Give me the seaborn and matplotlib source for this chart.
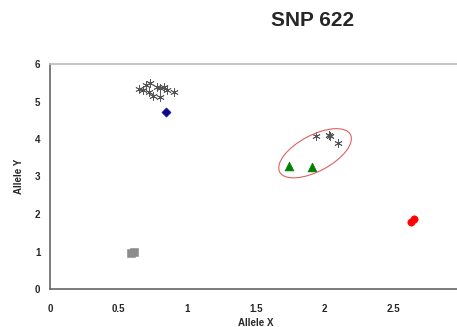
import numpy as np
import pandas as pd
import matplotlib
matplotlib.use('Agg')
import matplotlib.pyplot as plt
import seaborn as sns
from matplotlib.patches import Ellipse
from matplotlib.transforms import IdentityTransform

sns.set_style("white")
plt.rcParams['font.family'] = ['Liberation Sans', 'DejaVu Sans']

# star cluster (upper left)
star_x = [0.65, 0.68, 0.70, 0.73, 0.72, 0.75, 0.78, 0.80, 0.80, 0.83, 0.85, 0.90]
star_y = [5.33, 5.30, 5.45, 5.50, 5.25, 5.15, 5.40, 5.35, 5.12, 5.38, 5.30, 5.25]
# stars inside the circled group
star2_x = [1.94, 2.03, 2.04, 2.10]
star2_y = [4.08, 4.10, 4.07, 3.89]
diamond_x = [0.845]
diamond_y = [4.72]
square_x = [0.59, 0.61]
square_y = [0.95, 1.00]
circle_x = [2.63, 2.65]
circle_y = [1.80, 1.86]
tri_x = [1.74, 1.91]
tri_y = [3.28, 3.25]

x_ticks = [0, 0.5, 1, 1.5, 2, 2.5]
x_labels = ['0', '0.5', '1', '1.5', '2', '2.5']
y_ticks = [0, 1, 2, 3, 4, 5, 6]

fig = plt.figure(figsize=(4.57, 3.27), dpi=100)
ax = fig.add_axes([50/457, 38/327, 412/457, 225/327])

stars = pd.DataFrame({'x': star_x + star2_x, 'y': star_y + star2_y})
sns.scatterplot(data=stars, x='x', y='y', marker=(6, 2, 0), s=30,
                color='#555555', linewidth=0.6, ax=ax)
sns.scatterplot(x=diamond_x, y=diamond_y, marker='D', s=22, color='#0a0a8c',
                edgecolor='#0a0a8c', ax=ax)
sns.scatterplot(x=square_x, y=square_y, marker='s', s=28, color='#8c8c8c',
                edgecolor='#8c8c8c', ax=ax)
sns.scatterplot(x=circle_x, y=circle_y, marker='o', s=28, color='#ff0000',
                edgecolor='#ff0000', ax=ax)
sns.scatterplot(x=tri_x, y=tri_y, marker='^', s=40, color='#008000',
                edgecolor='#008000', ax=ax)

ax.set_xlim(0, 3)
ax.set_ylim(0, 6)
ax.set_xticks(x_ticks)
ax.set_xticklabels(x_labels)
ax.set_yticks(y_ticks)
for lab in ax.get_xticklabels() + ax.get_yticklabels():
    lab.set_fontweight('bold')
    lab.set_fontsize(7)
ax.tick_params(axis='x', direction='out', length=3, width=0.8, color='#666666', pad=8)
ax.tick_params(axis='y', direction='out', length=3, width=0.8, color='#666666', pad=4)
ax.set_xlabel('Allele X', fontsize=7, fontweight='bold', labelpad=3)
ax.set_ylabel('Allele Y', fontsize=7, fontweight='bold', labelpad=8)
for side in ['left', 'bottom']:
    ax.spines[side].set_color('#666666')
    ax.spines[side].set_linewidth(1.2)
ax.spines['top'].set_color('#bbbbbb')
ax.spines['top'].set_linewidth(1.2)
ax.spines['right'].set_visible(False)

# ellipse around the middle group, drawn in pixel space
cx, cy = ax.transData.transform((1.93, 3.62))
ax.add_patch(Ellipse((cx, cy), 80, 36, angle=28, fill=False,
                     edgecolor='#e06060', linewidth=0.8,
                     transform=IdentityTransform()))

fig.text(313/457, 1 - 20/327, 'SNP 622', ha='center', va='center',
         fontsize=15, fontweight='bold')

fig.savefig('out.png', dpi=100)
